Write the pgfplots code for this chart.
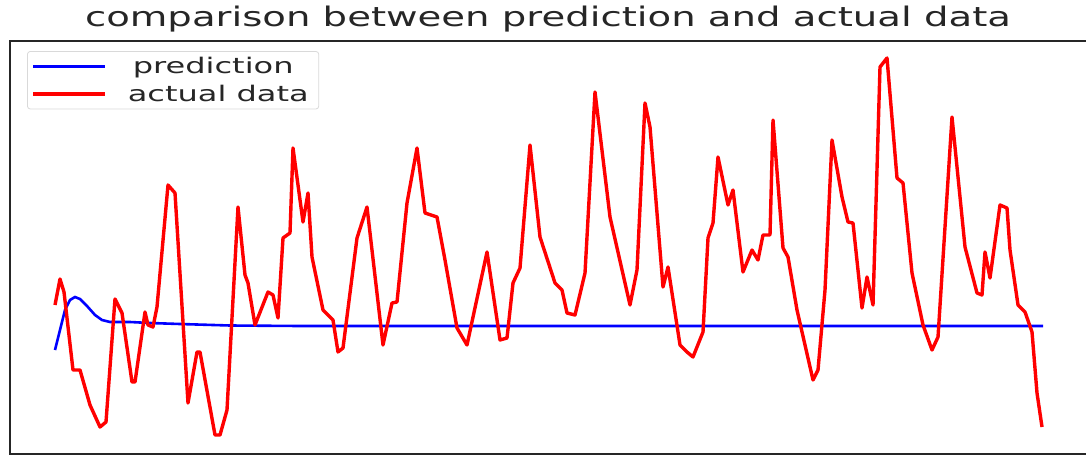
\documentclass[border=0pt]{standalone}
\usepackage{pgfplots}
\pgfplotsset{compat=1.18}
\usepackage{fontspec}
\setmainfont{DejaVu Sans}
\begin{document}
\begin{tikzpicture}[x=1pt,y=1pt]
\begin{axis}[
  at={(10pt,1pt)}, anchor=south west,
  scale only axis, width=1085pt, height=413pt,
  xmin=10, xmax=1095, ymin=41, ymax=454, y dir=reverse,
  axis line style={black!85, line width=1.6pt},
  ticks=none,
  clip=true,
  legend cell align=left,
  legend style={at={(axis cs:27,51)}, anchor=north west, draw=black!15, line width=0.8pt,
    rounded corners=3pt, inner xsep=4pt, inner ysep=4pt, row sep=6pt,
    font=\fontsize{21.5}{24}\selectfont, text=black!85,
    nodes={inner xsep=6pt, inner ysep=2pt}},
  legend image code/.code={\draw[#1] (0pt,0pt) -- (72pt,0pt);},
]
\addplot[blue, line width=2.6pt] coordinates {
(55,350)(60,330)(65,310)(70,300)(75,297)(80,299)(87,306)(95,315)(102,320)(110,322)(130,322)(150,323)(180,324)(230,325.5)(300,326)(1043,326)};
\addlegendentry{\hspace*{20pt}\scalebox{1.49}[1]{prediction}}
\addplot[red, line width=3.4pt, line join=round] coordinates {
(55,305)(60,279)(64,292)(73,370)(80,370)(90,405)(100,427)(106,422)(115,299)(122,313)(132,382)(135,382)(145,312)(148,325)(153,327)(157,307)(168,185)(175,193)(188,403)(197,352)(200,352)(215,435)(220,435)(227,410)(238,207)(245,275)(248,283)(255,325)(268,292)(273,295)(278,318)(283,238)(290,233)(293,148)(303,222)(308,193)(312,257)(323,310)(333,320)(338,352)(343,348)(357,238)(367,207)(383,345)(392,303)(397,302)(407,203)(417,148)(425,213)(437,217)(445,260)(457,328)(467,345)(487,252)(500,340)(507,338)(513,283)(520,268)(530,145)(540,237)(555,283)(562,290)(567,313)(575,315)(585,273)(595,92)(610,217)(630,305)(637,270)(645,103)(650,127)(663,287)(668,267)(680,345)(687,352)(693,357)(703,332)(708,238)(713,223)(718,157)(728,205)(733,190)(743,272)(752,250)(758,260)(763,235)(770,235)(773,120)(783,248)(788,257)(797,310)(813,380)(818,370)(825,290)(832,140)(842,197)(848,222)(853,223)(862,308)(867,277)(873,305)(880,67)(887,58)(897,178)(903,183)(912,273)(923,325)(932,350)(938,337)(952,117)(965,247)(977,293)(982,295)(985,252)(990,278)(1000,205)(1007,208)(1010,250)(1018,305)(1025,312)(1032,332)(1037,393)(1042,427)};
\addlegendentry{\hspace*{15pt}\scalebox{1.49}[1]{actual data}}
\end{axis}
\node[font=\fontsize{27}{30}\selectfont, text=black!85] at (548pt,436pt) {\scalebox{1.43}[1]{comparison between prediction and actual data}};
\pgfresetboundingbox
\path (0pt,0pt) rectangle (1086pt,455pt);
\end{tikzpicture}
\end{document}
